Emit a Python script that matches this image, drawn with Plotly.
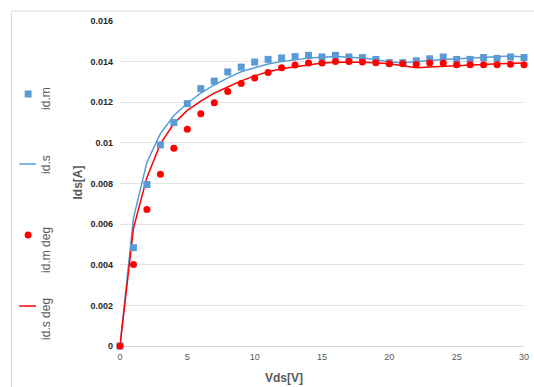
import plotly.graph_objects as go

vds = list(range(0, 31))

id_m = [0, 0.00484, 0.00795, 0.0099, 0.0110, 0.01193, 0.01267, 0.01304, 0.01349, 0.01373,
        0.01398, 0.01411, 0.01418, 0.01425, 0.01431, 0.01423, 0.01431, 0.01423, 0.01420, 0.01411,
        0.01395, 0.01395, 0.01404, 0.01414, 0.01423, 0.01411, 0.01411, 0.01420, 0.01416, 0.01423, 0.01420]

id_s = [0, 0.0063, 0.00905, 0.01045, 0.01135, 0.01195, 0.01245, 0.01285, 0.0132, 0.0135,
        0.0137, 0.01388, 0.0140, 0.0141, 0.01418, 0.01422, 0.01425, 0.01422, 0.01418, 0.0141,
        0.01398, 0.01395, 0.01402, 0.01406, 0.0141, 0.01414, 0.01417, 0.0142, 0.01424, 0.01428, 0.01423]

id_m_deg = [0, 0.00401, 0.00672, 0.00846, 0.00973, 0.01067, 0.01143, 0.01198, 0.01253, 0.01292,
            0.01320, 0.01346, 0.01370, 0.01383, 0.01393, 0.01393, 0.01401, 0.01401, 0.01398, 0.01395,
            0.01390, 0.01390, 0.01386, 0.01393, 0.01393, 0.01385, 0.01385, 0.01385, 0.01385, 0.01387, 0.01385]

id_s_deg = [0, 0.0058, 0.0083, 0.00995, 0.01095, 0.0116, 0.01205, 0.01245, 0.01275, 0.01305,
            0.0133, 0.0135, 0.01365, 0.01375, 0.01385, 0.01393, 0.01397, 0.01398, 0.01397, 0.01395,
            0.0139, 0.0138, 0.0137, 0.01373, 0.01377, 0.0138, 0.01383, 0.01386, 0.01389, 0.01392, 0.01393]

y_tickvals = [0, 0.002, 0.004, 0.006, 0.008, 0.01, 0.012, 0.014, 0.016]
y_ticktext = ["0", "0.002", "0.004", "0.006", "0.008", "0.01", "0.012", "0.014", "0.016"]
x_tickvals = [0, 5, 10, 15, 20, 25, 30]

BLUE = "#5B9BD5"
RED = "#FF0000"
GRAY = "#595959"

fig = go.Figure()
fig.add_trace(go.Scatter(x=vds, y=id_s, mode="lines", name="id.s",
                         line=dict(color=BLUE, width=1.5), cliponaxis=False))
fig.add_trace(go.Scatter(x=vds, y=id_s_deg, mode="lines", name="id.s deg",
                         line=dict(color=RED, width=1.5), cliponaxis=False))
fig.add_trace(go.Scatter(x=vds, y=id_m, mode="markers", name="id.m",
                         marker=dict(symbol="square", size=7, color=BLUE), cliponaxis=False))
fig.add_trace(go.Scatter(x=vds, y=id_m_deg, mode="markers", name="id.m deg",
                         marker=dict(symbol="circle", size=7, color=RED), cliponaxis=False))

W, H = 534, 387
L, R, T, B = 120, 5, 21, 41
pw, ph = W - L - R, H - T - B

def px(x):
    return (x - L) / pw

def py(y):
    return (H - B - y) / ph

shapes = [
    dict(type="rect", xref="paper", yref="paper", x0=px(10), x1=px(W + 20), y0=py(H + 20), y1=py(11),
         line=dict(color="#D9D9D9", width=1), fillcolor="rgba(0,0,0,0)", layer="below"),
    dict(type="line", xref="paper", yref="paper", x0=px(18), x1=px(35), y0=py(164), y1=py(164),
         line=dict(color=BLUE, width=1.5)),
    dict(type="line", xref="paper", yref="paper", x0=px(18), x1=px(35), y0=py(306), y1=py(306),
         line=dict(color=RED, width=1.5)),
    dict(type="rect", xref="paper", yref="paper", x0=px(23.5), x1=px(30.5), y0=py(97.5), y1=py(90.5),
         line=dict(width=0), fillcolor=BLUE),
    dict(type="circle", xref="paper", yref="paper", x0=px(23.5), x1=px(30.5), y0=py(238.5), y1=py(231.5),
         line=dict(width=0), fillcolor=RED),
]

legend_font = dict(family="Liberation Sans, Arial, sans-serif", size=12, color=GRAY)
annotations = [
    dict(text="id.m", x=px(45), y=py(98), xref="paper", yref="paper", textangle=-90,
         showarrow=False, font=legend_font, xanchor="center", yanchor="middle"),
    dict(text="id.s", x=px(45), y=py(164), xref="paper", yref="paper", textangle=-90,
         showarrow=False, font=legend_font, xanchor="center", yanchor="middle"),
    dict(text="id.m deg", x=px(45), y=py(250), xref="paper", yref="paper", textangle=-90,
         showarrow=False, font=legend_font, xanchor="center", yanchor="middle"),
    dict(text="id.s deg", x=px(45), y=py(319), xref="paper", yref="paper", textangle=-90,
         showarrow=False, font=legend_font, xanchor="center", yanchor="middle"),
    dict(text="<b>Ids[A]</b>", x=px(77), y=py(183), xref="paper", yref="paper", textangle=-90,
         showarrow=False, font=dict(family="Liberation Sans, Arial, sans-serif", size=12, color=GRAY),
         xanchor="center", yanchor="middle"),
    dict(text="<b>Vds[V]</b>", x=px(286), y=py(378), xref="paper", yref="paper",
         showarrow=False, font=dict(family="Liberation Sans, Arial, sans-serif", size=12, color=GRAY),
         xanchor="center", yanchor="middle"),
]

fig.update_layout(
    width=W, height=H,
    margin=dict(l=L, r=R, t=T, b=B, pad=0),
    paper_bgcolor="white", plot_bgcolor="white",
    showlegend=False,
    shapes=shapes, annotations=annotations,
    xaxis=dict(range=[0, 30], tickvals=x_tickvals, showgrid=False, zeroline=False,
               showline=False, ticks="", ticklabelstandoff=4, ticklabeloverflow="allow",
               tickfont=dict(family="Liberation Sans, Arial, sans-serif", size=9, color=GRAY)),
    yaxis=dict(range=[0, 0.016], tickvals=y_tickvals, ticktext=y_ticktext,
               showgrid=True, gridcolor="#E3E3E3", gridwidth=1, zeroline=True,
               zerolinecolor="#D9D9D9", zerolinewidth=1, showline=False, ticks="",
               ticklabelstandoff=6,
               tickfont=dict(family="Liberation Sans, Arial, sans-serif", size=9, color="#262626", weight="bold")),
)

fig.write_html("out.html")
